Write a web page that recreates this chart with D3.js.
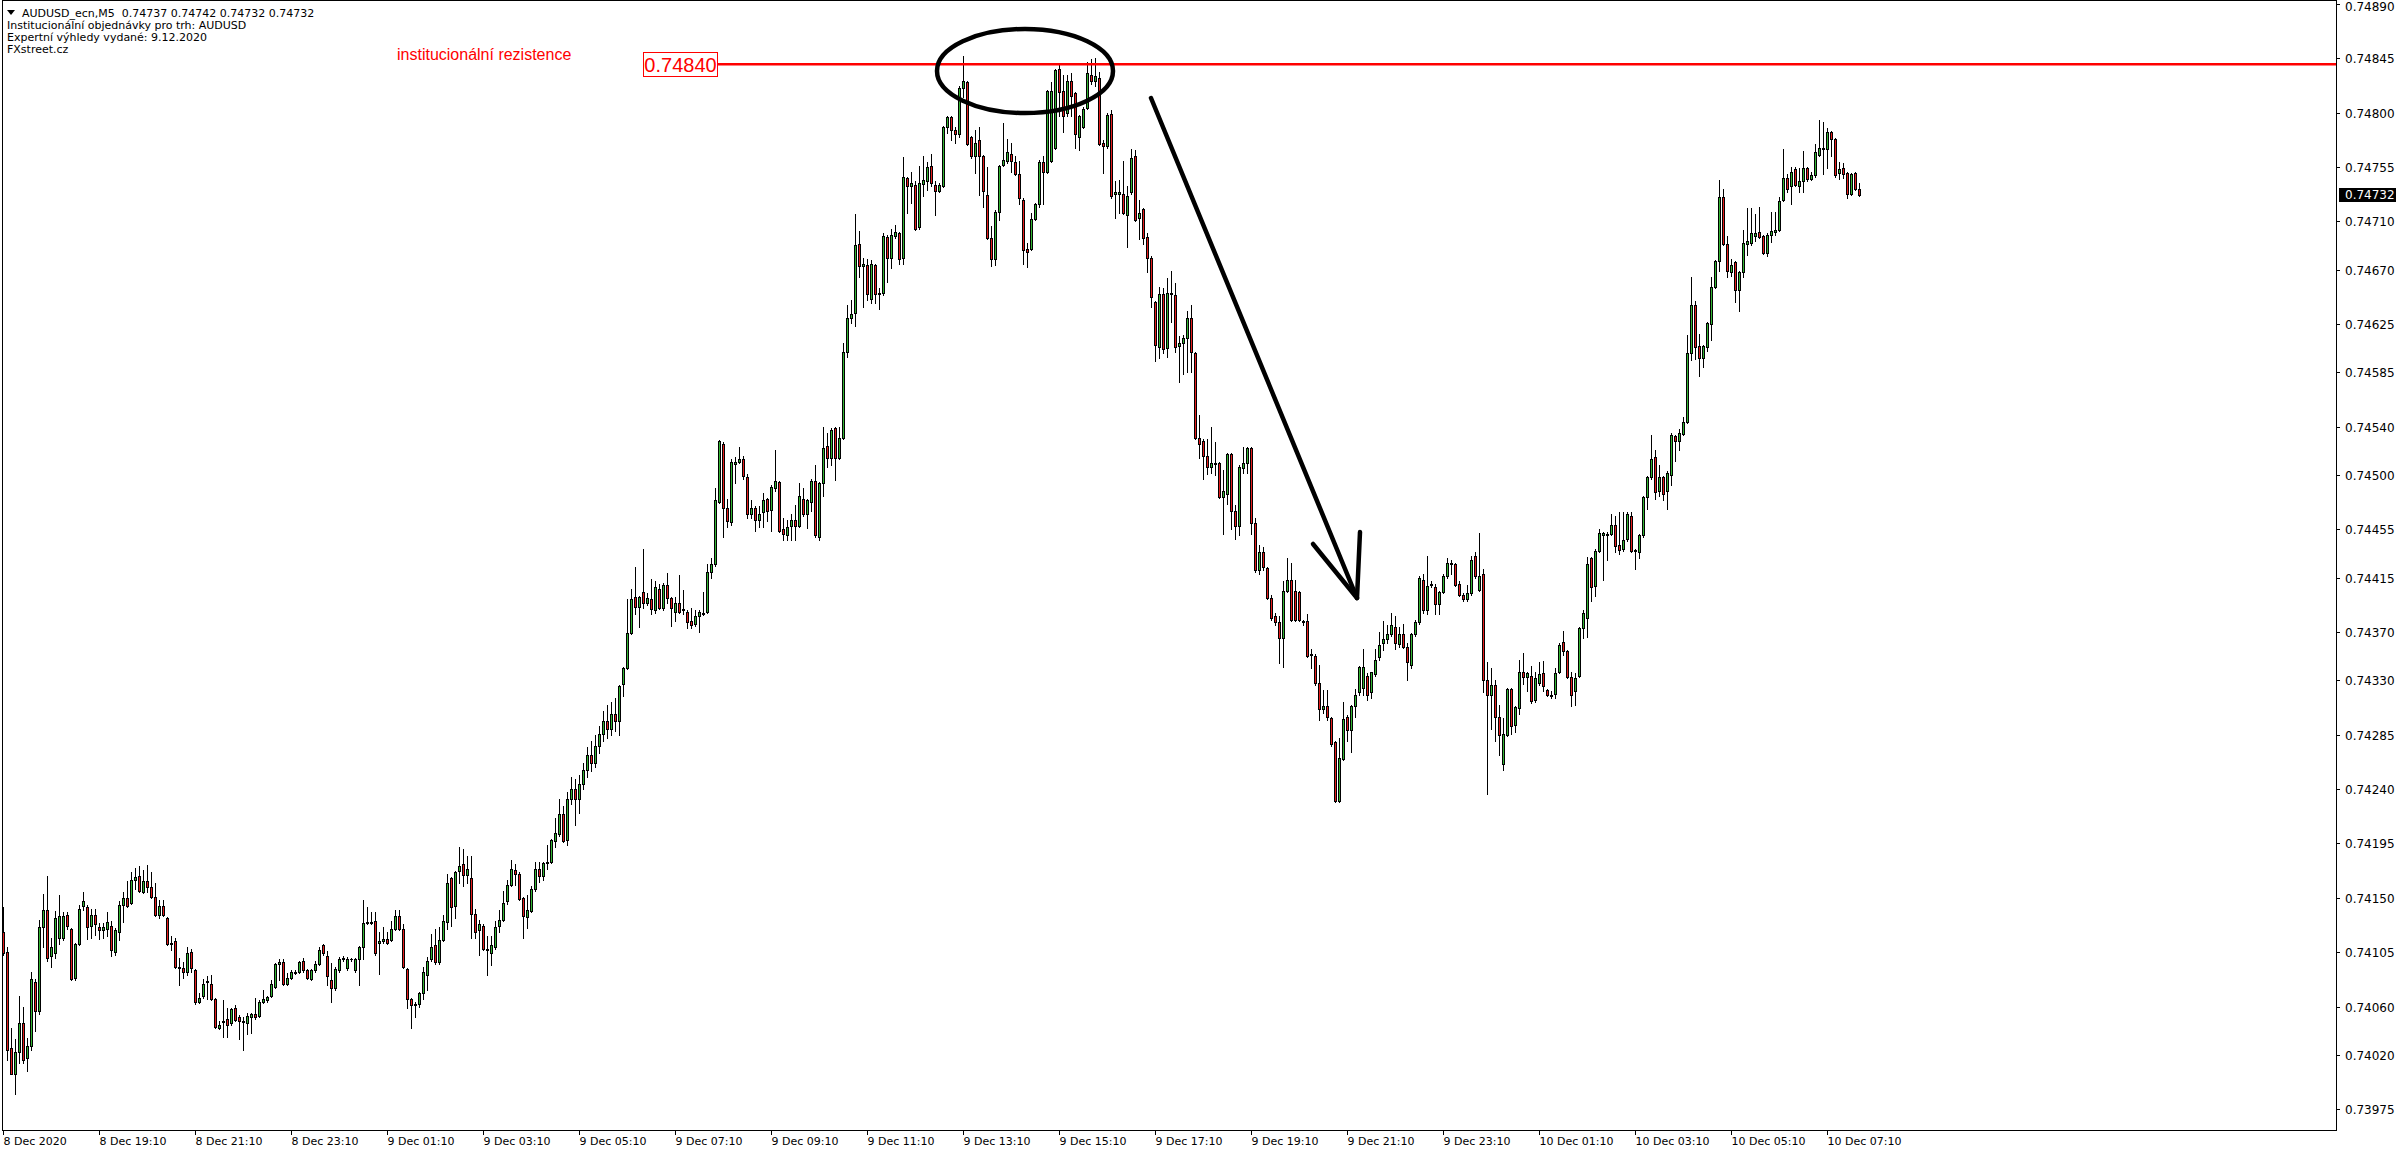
<!DOCTYPE html>
<html><head><meta charset="utf-8">
<script src="https://cdn.jsdelivr.net/npm/d3@7"></script>
<style>body{margin:0;background:#fff;overflow:hidden}svg{display:block}</style>
</head><body>
<svg id="chart" width="2396" height="1154"></svg>
<script>
// AUDUSD M5 candles, prices in 1e-5 units (74122 = 0.74122)
const opens=[74122,74105,74026,74004,74022,74046,74017,74027,74080,74056,
74126,74140,74102,74104,74117,74117,74136,74124,74084,74112,
74143,74142,74127,74136,74126,74123,74124,74127,74105,74122,
74144,74150,74146,74165,74168,74155,74164,74159,74151,74136,
74143,74133,74113,74114,74093,74092,74089,74105,74090,74064,
74069,74080,74079,74066,74042,74047,74050,74046,74059,74051,
74048,74046,74051,74054,74052,74064,74065,74069,74076,74095,
74097,74079,74084,74088,74089,74098,74090,74083,74090,74095,
74111,74102,74082,74075,74090,74099,74092,74099,74090,74099,
74109,74129,74129,74131,74113,74114,74116,74115,74124,74135,
74124,74091,74066,74061,74062,74071,74086,74099,74111,74097,
74115,74130,74166,74143,74172,74178,74169,74166,74137,74123,
74127,74108,74104,74109,74127,74132,74147,74161,74173,74170,
74150,74134,74139,74157,74174,74168,74179,74180,74197,74203,
74219,74198,74232,74240,74232,74244,74256,74268,74262,74276,
74286,74296,74290,74302,74296,74327,74340,74369,74399,74391,
74403,74394,74397,74388,74406,74390,74409,74398,74387,74394,
74389,74387,74379,74377,74383,74385,74387,74420,74426,74478,
74526,74473,74461,74509,74511,74513,74498,74468,74473,74463,
74469,74480,74471,74489,74494,74455,74450,74458,74463,74458,
74480,74468,74478,74495,74449,74493,74524,74514,74539,74514,
74531,74602,74630,74634,74691,74673,74674,74646,74674,74651,
74651,74697,74680,74698,74700,74680,74746,74739,74740,74705,
74741,74743,74756,74740,74735,74739,74788,74796,74786,74782,
74820,74825,74780,74764,74777,74764,74732,74696,74679,74718,
74757,74760,74766,74759,74749,74728,74687,74687,74712,74724,
74759,74751,74760,74771,74836,74818,74800,74826,74816,74780,
74788,74804,74831,74826,74829,74775,74772,74799,74733,74733,
74733,74715,74734,74764,74713,74720,74697,74680,74643,74606,
74650,74605,74651,74649,74607,74609,74613,74630,74601,74531,
74528,74516,74507,74509,74510,74482,74484,74517,74470,74458,
74506,74510,74522,74460,74421,74436,74423,74398,74383,74378,
74365,74404,74413,74404,74403,74379,74379,74352,74350,74328,
74306,74309,74299,74279,74230,74265,74300,74289,74309,74320,
74324,74334,74320,74335,74349,74361,74364,74368,74374,74360,
74368,74358,74343,74368,74378,74413,74388,74409,74407,74393,
74403,74416,74426,74426,74410,74401,74397,74402,74433,74405,
74418,74330,74318,74326,74300,74261,74285,74323,74293,74307,
74337,74333,74334,74314,74328,74336,74322,74317,74319,74337,
74362,74354,74333,74321,74334,74373,74382,74431,74408,74437,
74450,74451,74451,74459,74442,74439,74447,74466,74437,74436,
74450,74482,74498,74515,74487,74498,74487,74500,74532,74528,
74534,74544,74601,74641,74607,74597,74606,74625,74656,74677,
74730,74691,74668,74676,74653,74668,74691,74692,74698,74701,
74698,74684,74699,74701,74703,74728,74746,74739,74753,74739,
74743,74754,74745,74748,74765,74770,74770,74784,74778,74750,
74754,74750,74733,74750,74737];
const highs=[74142,74109,74042,74033,74069,74060,74034,74089,74083,74132,
74153,74168,74117,74139,74152,74138,74138,74125,74113,74144,
74155,74144,74141,74141,74129,74129,74138,74131,74125,74147,
74155,74164,74171,74175,74176,74173,74177,74171,74162,74148,
74148,74134,74118,74117,74100,74097,74109,74108,74091,74071,
74083,74085,74086,74067,74048,74065,74059,74059,74061,74053,
74051,74055,74055,74067,74065,74074,74069,74082,74096,74099,
74099,74088,74090,74090,74098,74100,74091,74091,74098,74109,
74112,74106,74096,74093,74101,74102,74101,74100,74100,74110,
74148,74142,74138,74138,74122,74126,74122,74131,74140,74140,
74128,74092,74067,74064,74072,74093,74101,74120,74124,74126,
74136,74170,74167,74172,74192,74190,74185,74185,74141,74132,
74128,74118,74118,74131,74140,74156,74165,74181,74178,74171,
74151,74152,74160,74180,74180,74180,74194,74199,74216,74232,
74226,74238,74250,74248,74252,74262,74275,74280,74285,74292,
74305,74310,74312,74315,74326,74341,74397,74406,74424,74400,
74439,74402,74414,74412,74410,74411,74419,74399,74399,74417,
74405,74388,74390,74388,74388,74403,74426,74431,74489,74529,
74527,74480,74513,74515,74523,74516,74501,74479,74474,74474,
74485,74481,74492,74521,74495,74464,74463,74468,74475,74493,
74489,74480,74497,74508,74494,74540,74535,74539,74540,74540,
74609,74641,74645,74716,74702,74680,74679,74678,74675,74655,
74700,74699,74704,74707,74701,74763,74747,74751,74743,74756,
74764,74759,74766,74743,74742,74789,74797,74797,74788,74822,
74847,74826,74781,74786,74788,74765,74755,74706,74719,74757,
74791,74778,74775,74764,74760,74729,74692,74717,74725,74761,
74764,74819,74825,74836,74840,74831,74831,74833,74817,74798,
74805,74842,74844,74845,74834,74777,74800,74802,74743,74744,
74760,74739,74770,74769,74728,74721,74700,74681,74644,74656,
74655,74663,74669,74659,74615,74616,74636,74641,74602,74550,
74530,74530,74540,74527,74511,74504,74518,74518,74475,74508,
74523,74523,74523,74464,74442,74440,74424,74401,74386,74383,
74412,74431,74427,74413,74404,74380,74385,74356,74352,74343,
74322,74322,74300,74280,74282,74312,74301,74310,74323,74342,
74356,74336,74337,74356,74370,74379,74376,74386,74383,74374,
74377,74361,74369,74380,74416,74418,74433,74412,74410,74404,
74418,74431,74430,74427,74412,74402,74409,74433,74436,74452,
74422,74345,74340,74330,74310,74299,74324,74324,74309,74347,
74353,74337,74342,74337,74345,74346,74323,74321,74340,74361,
74371,74355,74337,74336,74374,74388,74432,74432,74439,74455,
74453,74453,74468,74466,74469,74469,74469,74469,74439,74451,
74483,74499,74533,74521,74508,74499,74503,74535,74533,74538,
74548,74616,74664,74644,74617,74608,74627,74664,74678,74744,
74737,74698,74679,74677,74669,74703,74721,74721,74716,74722,
74699,74700,74718,74718,74730,74770,74749,74755,74755,74754,
74768,74755,74751,74774,74794,74792,74787,74785,74779,74759,
74758,74751,74750,74751,74742];
const lows=[74103,74016,74004,73988,74013,74013,74007,74024,74040,74054,
74109,74098,74093,74100,74112,74115,74124,74082,74082,74111,
74140,74116,74117,74119,74116,74117,74118,74102,74103,74115,
74130,74142,74145,74157,74155,74154,74155,74150,74135,74133,
74135,74111,74107,74092,74078,74084,74086,74089,74062,74063,
74067,74066,74065,74042,74041,74035,74035,74045,74048,74033,
74024,74037,74038,74050,74051,74063,74064,74068,74075,74082,
74078,74078,74083,74087,74088,74089,74083,74082,74089,74094,
74103,74078,74064,74074,74089,74098,74090,74098,74089,74078,
74099,74128,74128,74103,74087,74113,74112,74114,74123,74123,
74092,74059,74042,74051,74060,74066,74074,74098,74095,74095,
74114,74124,74127,74133,74162,74160,74162,74117,74117,74103,
74107,74086,74094,74108,74122,74131,74145,74160,74161,74148,
74117,74125,74138,74156,74163,74165,74174,74179,74192,74201,
74196,74194,74228,74210,74220,74240,74250,74255,74258,74270,
74280,74282,74285,74288,74285,74317,74339,74368,74385,74374,
74390,74392,74385,74386,74389,74388,74394,74375,74379,74386,
74385,74373,74373,74375,74370,74384,74386,74415,74425,74477,
74449,74457,74459,74493,74510,74497,74464,74464,74454,74457,
74457,74462,74454,74487,74453,74446,74446,74446,74446,74457,
74466,74456,74470,74449,74446,74483,74507,74508,74496,74513,
74530,74598,74626,74623,74664,74639,74645,74642,74642,74637,
74649,74660,74671,74696,74675,74675,74717,74725,74703,74704,
74731,74736,74739,74715,74734,74738,74783,74777,74775,74780,
74813,74773,74762,74750,74732,74722,74695,74673,74674,74711,
74756,74758,74751,74748,74724,74675,74672,74686,74711,74722,
74724,74750,74759,74770,74797,74784,74797,74797,74771,74769,
74787,74803,74824,74822,74773,74750,74771,74729,74713,74717,
74716,74689,74733,74710,74695,74691,74668,74639,74594,74597,
74601,74598,74627,74602,74577,74584,74585,74585,74530,74514,
74497,74501,74502,74500,74481,74451,74476,74455,74447,74450,
74502,74502,74451,74420,74418,74421,74397,74380,74376,74344,
74341,74403,74379,74379,74379,74376,74349,74340,74326,74297,
74303,74297,74276,74229,74229,74264,74280,74271,74300,74318,
74318,74314,74315,74334,74347,74355,74361,74367,74356,74358,
74357,74330,74340,74367,74377,74386,74385,74407,74385,74385,
74402,74415,74418,74408,74400,74396,74396,74401,74415,74404,
74320,74236,74290,74280,74268,74256,74284,74286,74287,74302,
74327,74321,74311,74312,74326,74321,74317,74315,74315,74336,
74351,74332,74309,74310,74333,74365,74366,74396,74400,74436,
74413,74430,74450,74436,74435,74437,74445,74436,74422,74431,
74449,74472,74497,74480,74483,74479,74472,74492,74512,74521,
74533,74543,74595,74596,74582,74589,74603,74612,74655,74669,
74690,74664,74665,74643,74636,74664,74682,74690,74694,74696,
74683,74681,74693,74699,74702,74727,74734,74724,74739,74734,
74734,74743,74744,74747,74764,74749,74754,74764,74747,74745,
74746,74729,74732,74736,74731];
const closes=[74104,74024,74004,74022,74046,74016,74027,74083,74056,74126,
74140,74100,74109,74133,74135,74135,74127,74083,74112,74141,
74147,74126,74136,74128,74123,74126,74130,74107,74123,74144,
74150,74143,74165,74167,74156,74164,74159,74151,74136,74143,
74136,74112,74112,74093,74092,74089,74104,74092,74064,74067,
74079,74081,74066,74043,74045,74048,74045,74058,74049,74048,
74047,74052,74054,74051,74064,74066,74068,74079,74095,74097,
74079,74084,74089,74089,74097,74090,74084,74090,74095,74107,
74104,74085,74075,74091,74099,74100,74099,74099,74099,74109,
74129,74130,74130,74104,74114,74116,74113,74124,74135,74124,
74093,74066,74061,74062,74071,74089,74098,74109,74097,74115,
74131,74162,74142,74171,74176,74169,74174,74137,74122,74128,
74108,74107,74111,74126,74132,74146,74161,74174,74170,74149,
74135,74140,74157,74174,74168,74179,74180,74198,74204,74219,
74197,74232,74240,74232,74244,74256,74268,74262,74276,74286,
74296,74290,74302,74296,74325,74340,74369,74397,74391,74399,
74394,74398,74389,74407,74390,74409,74398,74390,74394,74387,
74388,74378,74376,74383,74387,74386,74420,74426,74479,74528,
74473,74462,74511,74511,74513,74499,74468,74473,74463,74468,
74479,74470,74490,74495,74454,74451,74457,74463,74458,74483,
74468,74479,74495,74450,74493,74522,74514,74537,74514,74531,
74602,74630,74633,74690,74673,74675,74650,74675,74650,74650,
74698,74680,74699,74701,74679,74747,74739,74742,74704,74742,
74744,74755,74742,74735,74740,74788,74796,74786,74782,74820,
74826,74774,74764,74775,74764,74735,74696,74679,74718,74756,
74761,74767,74760,74749,74729,74686,74685,74712,74724,74759,
74751,74818,74818,74835,74817,74797,74826,74814,74782,74797,
74803,74833,74826,74830,74774,74772,74798,74731,74734,74734,
74717,74731,74762,74711,74717,74696,74680,74647,74608,74650,
74604,74651,74650,74606,74609,74613,74630,74602,74531,74526,
74516,74507,74510,74510,74482,74487,74517,74470,74458,74507,
74510,74522,74460,74421,74436,74424,74398,74382,74378,74365,
74404,74413,74380,74380,74380,74378,74350,74351,74328,74306,
74309,74300,74277,74230,74266,74298,74289,74309,74318,74341,
74341,74318,74337,74347,74359,74364,74368,74376,74361,74368,
74358,74345,74368,74378,74415,74388,74408,74410,74393,74403,
74416,74427,74427,74409,74401,74397,74402,74430,74416,74416,
74330,74318,74326,74300,74285,74286,74323,74292,74308,74337,
74333,74336,74313,74332,74335,74325,74318,74318,74336,74359,
74354,74333,74318,74332,74373,74386,74426,74407,74437,74452,
74452,74450,74459,74441,74438,74446,74468,74437,74438,74450,
74482,74498,74513,74486,74498,74484,74502,74533,74528,74535,
74544,74601,74641,74606,74597,74607,74626,74656,74677,74730,
74691,74669,74674,74653,74668,74692,74694,74700,74700,74697,
74684,74699,74702,74703,74727,74746,74737,74751,74740,74743,
74754,74745,74748,74767,74771,74771,74784,74778,74748,74753,
74749,74733,74749,74737,74732];

const timeLabels=["8 Dec 2020","8 Dec 19:10","8 Dec 21:10","8 Dec 23:10","9 Dec 01:10","9 Dec 03:10","9 Dec 05:10","9 Dec 07:10","9 Dec 09:10","9 Dec 11:10","9 Dec 13:10","9 Dec 15:10","9 Dec 17:10","9 Dec 19:10","9 Dec 21:10","9 Dec 23:10","10 Dec 01:10","10 Dec 03:10","10 Dec 05:10","10 Dec 07:10"];
const timeLabelBars=[0,24,48,72,96,120,144,168,192,216,240,264,288,312,336,360,384,408,432,456];
const priceTicks=[0.74890,0.74845,0.74800,0.74755,0.74710,0.74670,0.74625,0.74585,0.74540,0.74500,0.74455,0.74415,0.74370,0.74330,0.74285,0.74240,0.74195,0.74150,0.74105,0.74060,0.74020,0.73975];
const resistance=0.74840;
const lastPrice=0.74732;
const headerLines=["AUDUSD_ecn,M5  0.74737 0.74742 0.74732 0.74732","Institucionální objednávky pro trh: AUDUSD","Expertní výhledy vydané: 9.12.2020","FXstreet.cz"];

const W=2396,H=1154;
const plotL=2, plotR=2336, plotT=0, plotB=1130;
const n=opens.length;
const svg=d3.select("#chart");
svg.append("rect").attr("width",W).attr("height",H).attr("fill","#fff");

const x=d3.scaleLinear().domain([0,n-1]).range([3,3+4*(n-1)]);
const y=d3.scaleLinear().domain([0.739578,0.748932]).range([plotB,plotT]);
const P=v=>v/100000;

const UP="#32b432", DN="#e41c1c";

// candles
const g=svg.append("g");
for(let i=0;i<n;i++){
  const cx=Math.round(x(i));
  const yh=Math.round(y(P(highs[i]))), yl=Math.round(y(P(lows[i])));
  g.append("rect").attr("x",cx).attr("y",yh).attr("width",1).attr("height",Math.max(1,yl-yh+1)).attr("fill","#000");
  const yo=Math.round(y(P(opens[i]))), yc=Math.round(y(P(closes[i])));
  const top=Math.min(yo,yc), bot=Math.max(yo,yc);
  g.append("rect").attr("x",cx-1).attr("y",top).attr("width",3).attr("height",bot-top+1).attr("fill","#000");
  if(bot-top>=2){
    g.append("rect").attr("x",cx).attr("y",top+1).attr("width",1).attr("height",bot-top-1)
      .attr("fill",closes[i]>=opens[i]?UP:DN);
  }
}

// frame
svg.append("rect").attr("x",plotL+0.5).attr("y",plotT+0.5).attr("width",plotR-plotL).attr("height",plotB-plotT)
  .attr("fill","none").attr("stroke","#000").attr("stroke-width",1);

// y axis ticks/labels
const ya=svg.append("g").attr("font-family","DejaVu Sans, Verdana, sans-serif").attr("font-size","12px").attr("fill","#000");
priceTicks.forEach(v=>{
  const yy=Math.round(y(v))+0.5;
  ya.append("line").attr("x1",plotR+0.5).attr("x2",plotR+4).attr("y1",yy).attr("y2",yy).attr("stroke","#000");
  ya.append("text").attr("x",plotR+9).attr("y",Math.max(yy,7)).attr("dy","0.35em").text(v.toFixed(5));
});
// last price tag
const ylp=Math.round(y(lastPrice));
svg.append("rect").attr("x",plotR+3).attr("y",ylp-7).attr("width",W-plotR-3).attr("height",14).attr("fill","#000");
svg.append("text").attr("x",plotR+9).attr("y",ylp).attr("dy","0.35em").attr("font-family","DejaVu Sans, Verdana, sans-serif")
  .attr("font-size","12px").attr("fill","#fff").text(lastPrice.toFixed(5));

// x axis
const xa=svg.append("g").attr("font-family","DejaVu Sans, Verdana, sans-serif").attr("font-size","11px").attr("fill","#000");
timeLabelBars.forEach((b,k)=>{
  const xx=Math.round(x(b))+0.5;
  xa.append("line").attr("x1",xx).attr("x2",xx).attr("y1",plotB).attr("y2",plotB+5).attr("stroke","#000");
  xa.append("text").attr("x",xx).attr("y",plotB+15).text(timeLabels[k]);
});

// resistance line + label
const yr=y(resistance);
svg.append("line").attr("x1",718).attr("x2",plotR).attr("y1",yr).attr("y2",yr).attr("stroke","#ff0000").attr("stroke-width",2.6);
svg.append("rect").attr("x",643.5).attr("y",52.5).attr("width",74).attr("height",24).attr("fill","#fff").attr("stroke","#ff0000").attr("stroke-width",1);
svg.append("text").attr("x",680.5).attr("y",72).attr("text-anchor","middle").attr("font-family","Liberation Sans, Arial, sans-serif")
  .attr("font-size","20px").attr("fill","#ff0000").text(resistance.toFixed(5));
svg.append("text").attr("x",397).attr("y",60).attr("font-family","Liberation Sans, Arial, sans-serif")
  .attr("font-size","16px").attr("fill","#ff0000").text("institucionální rezistence");

// header text
svg.append("path").attr("d","M7,10 L15,10 L11,15 Z").attr("fill","#000");
const ht=svg.append("g").attr("font-family","DejaVu Sans, Verdana, sans-serif").attr("font-size","11px").attr("fill","#000")
  .style("white-space","pre");
headerLines.forEach((t,k)=>{
  ht.append("text").attr("x",k===0?22:7).attr("y",16.7+12.1*k).attr("xml:space","preserve").text(t);
});

// drawings: ellipse and arrow
svg.append("ellipse").attr("cx",1025).attr("cy",71).attr("rx",88).attr("ry",42).attr("fill","none").attr("stroke","#000").attr("stroke-width",4.5);
const arr=svg.append("g").attr("stroke","#000").attr("stroke-width",4.5).attr("fill","none").attr("stroke-linecap","round");
arr.append("line").attr("x1",1151).attr("y1",98).attr("x2",1357).attr("y2",598);
arr.append("line").attr("x1",1313).attr("y1",544).attr("x2",1357).attr("y2",598);
arr.append("line").attr("x1",1360).attr("y1",532).attr("x2",1357).attr("y2",598);
</script>
</body></html>
